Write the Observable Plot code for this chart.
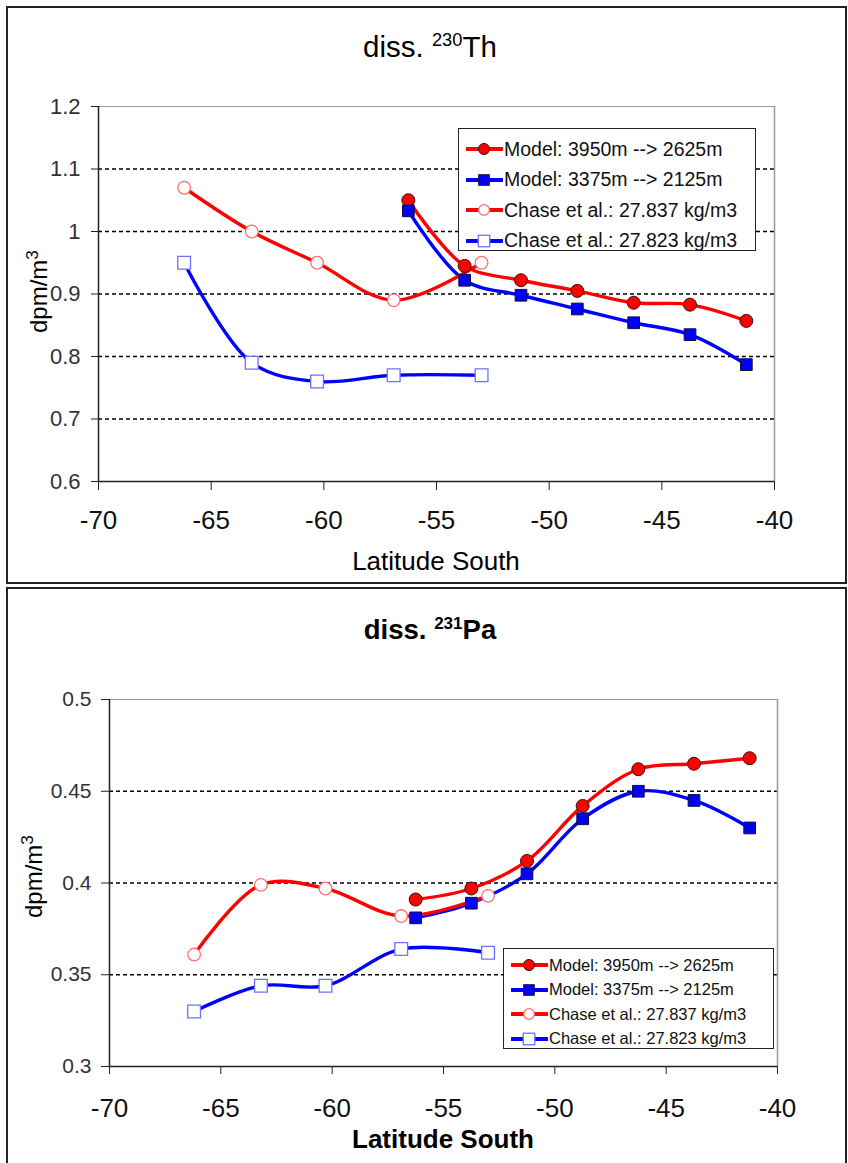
<!DOCTYPE html>
<html><head><meta charset="utf-8">
<script src="https://cdn.jsdelivr.net/npm/d3@7"></script>
<script src="https://cdn.jsdelivr.net/npm/@observablehq/plot@0.6"></script>
<style>
body{margin:0;background:#fff;font-family:"Liberation Sans",Arial,sans-serif;}
#page{position:relative;width:848px;height:1163px;overflow:hidden;background:#fff;}
.panel{position:absolute;border:2px solid #222;box-sizing:border-box;}
.title{position:absolute;left:0;width:860px;text-align:center;color:#000;}
.ylab{position:absolute;transform:rotate(-90deg);transform-origin:center center;white-space:nowrap;color:#000;}
.legend{position:absolute;background:#fff;border:1.5px solid #222;box-sizing:border-box;}
.legend .row{display:flex;align-items:center;white-space:nowrap;color:#111;}
</style></head>
<body><div id="page"></div>
<script>
// ---- data ----
const seriesNames = ["Model: 3950m --> 2625m","Model: 3375m --> 2125m","Chase et al.: 27.837 kg/m3","Chase et al.: 27.823 kg/m3"];
const latModel = [-56.25,-53.75,-51.25,-48.75,-46.25,-43.75,-41.25];
const latChase = [-66.2,-63.2,-60.3,-56.9,-53.0];
const thModelDeep    = [1.05,0.945,0.922,0.905,0.886,0.883,0.857];
const thModelShallow = [1.033,0.922,0.898,0.876,0.854,0.835,0.787];
const thChaseDeep    = [1.07,1.0,0.95,0.89,0.95];
const thChaseShallow = [0.95,0.79,0.76,0.77,0.77];
const paModelDeep    = [0.391,0.397,0.412,0.442,0.462,0.465,0.468];
const paModelShallow = [0.381,0.389,0.405,0.435,0.450,0.445,0.430];
const paChaseDeep    = [0.361,0.399,0.397,0.382,0.393];
const paChaseShallow = [0.330,0.344,0.344,0.364,0.362];
const xTicks = [-70,-65,-60,-55,-50,-45,-40];
const thYTicks = [0.6,0.7,0.8,0.9,1.0,1.1,1.2];
const paYTicks = [0.3,0.35,0.4,0.45,0.5];

const styles = [
  {line:"#ff0000", fill:"#ff0000", stroke:"#3a1010", symbol:"circle", r:6.5, sw:1},
  {line:"#0000ff", fill:"#0000ff", stroke:"#10103a", symbol:"square", r:6.6, sw:1},
  {line:"#ff0000", fill:"#ffffff", stroke:"#ff7070", symbol:"circle", r:6.3, sw:1.3},
  {line:"#0000ff", fill:"#ffffff", stroke:"#7070ff", symbol:"square", r:7.2, sw:1.3}
];

function rows(xs, ys){ return xs.map((x,i)=>({x, y:ys[i]})); }

const page = document.getElementById("page");

function makePanel(cfg){
  const panel = document.createElement("div");
  panel.className = "panel";
  Object.assign(panel.style, {left:"6px", top:cfg.boxTop+"px", width:"841px", height:cfg.boxH+"px"});
  page.appendChild(panel);

  const data = cfg.series.map(s => rows(s.xs, s.ys));
  const marks = [
    Plot.gridY(cfg.yTicks.slice(1,-1), {stroke:"#000", strokeOpacity:1, strokeWidth:1.3, strokeDasharray:"4,3"}),
    Plot.ruleY([cfg.yDomain[1]], {stroke:"#999", strokeWidth:1}),
    Plot.ruleX([cfg.xDomain[1]], {stroke:"#999", strokeWidth:1.5}),
    Plot.axisY({ticks: cfg.yTicks, tickFormat: d => String(+d.toFixed(2)), tickSize: cfg.yTickSize, tickPadding: cfg.yTickPad, fontSize: cfg.yFont, label:null, stroke:"#222", color:"#333"}),
    Plot.axisX({ticks: xTicks, tickFormat: d => String(d), tickSize: cfg.xTickSize, tickPadding: cfg.xTickPad, fontSize: cfg.xFont, label:null, stroke:"#222", color:"#111"}),
    Plot.ruleX([cfg.xDomain[0]], {stroke:"#222", strokeWidth:1.5}),
    Plot.ruleY([cfg.yDomain[0]], {stroke:"#222", strokeWidth:1.5})
  ];
  data.forEach((d,i)=>{
    marks.push(Plot.line(d, {x:"x", y:"y", stroke:styles[i].line, strokeWidth:3.4, curve:"catmull-rom"}));
  });
  data.forEach((d,i)=>{
    const s = styles[i];
    marks.push(Plot.dot(d, {x:"x", y:"y", symbol:s.symbol, r:s.r, fill:s.fill, stroke:s.stroke, strokeWidth:s.sw}));
  });
  const svg = Plot.plot({
    width: 848, height: cfg.svgH,
    marginLeft: cfg.mL, marginRight: cfg.mR, marginTop: cfg.mT, marginBottom: cfg.mB,
    x: {domain: cfg.xDomain},
    y: {domain: cfg.yDomain},
    style: {fontFamily:'"Liberation Sans", Arial, sans-serif', background:"transparent", overflow:"visible"},
    marks
  });
  svg.style.position = "absolute";
  svg.style.left = "0px";
  svg.style.top = cfg.svgTop + "px";
  page.appendChild(svg);

  const t = document.createElement("div");
  t.className = "title";
  t.style.top = cfg.titleTop + "px";
  t.style.fontSize = cfg.titleSize + "px";
  t.style.fontWeight = cfg.bold ? "bold" : "normal";
  t.innerHTML = cfg.titleHTML;
  page.appendChild(t);

  const xl = document.createElement("div");
  xl.className = "title";
  xl.style.left = "0px";
  xl.style.width = (cfg.mL*2 + (848-cfg.mL-cfg.mR)) + "px";
  xl.style.top = cfg.xLabTop + "px";
  xl.style.fontSize = cfg.xLabSize + "px";
  xl.style.fontWeight = cfg.bold ? "bold" : "normal";
  xl.textContent = "Latitude South";
  page.appendChild(xl);

  const yl = document.createElement("div");
  yl.className = "ylab";
  yl.style.fontSize = cfg.yLabSize + "px";
  yl.innerHTML = "dpm/m<sup style='font-size:0.72em'>3</sup>";
  yl.style.left = (cfg.yLabX - 60) + "px";
  yl.style.top = (cfg.yLabY - 15) + "px";
  yl.style.width = "120px";
  yl.style.textAlign = "center";
  yl.style.lineHeight = "30px";
  page.appendChild(yl);

  const lg = document.createElement("div");
  lg.className = "legend";
  Object.assign(lg.style, {left:cfg.lg.x+"px", top:cfg.lg.y+"px", width:cfg.lg.w+"px", height:cfg.lg.h+"px", paddingTop:cfg.lg.pad+"px", paddingLeft:"7px"});
  seriesNames.forEach((name,i)=>{
    const s = styles[i];
    const row = document.createElement("div");
    row.className = "row";
    row.style.height = cfg.lg.rowH + "px";
    row.style.fontSize = cfg.lg.font + "px";
    const half = s.symbol === "circle" ? s.r*0.85 : s.r*0.8;
    const mk = s.symbol === "circle"
      ? `<circle cx="18" cy="10" r="${half}" fill="${s.fill}" stroke="${s.stroke}" stroke-width="${s.sw}"/>`
      : `<rect x="${18-half}" y="${10-half}" width="${2*half}" height="${2*half}" fill="${s.fill}" stroke="${s.stroke}" stroke-width="${s.sw}"/>`;
    row.innerHTML = `<svg width="37" height="20" style="flex:none;margin-right:1px"><line x1="1" y1="10" x2="36" y2="10" stroke="${s.line}" stroke-width="4" stroke-linecap="round"/>${mk}</svg><span>${name}</span>`;
    lg.appendChild(row);
  });
  page.appendChild(lg);
}

makePanel({
  boxTop:6, boxH:578, svgTop:0, svgH:590,
  mL:98, mR:74, mT:106, mB:109,
  xDomain:[-70,-40], yDomain:[0.6,1.2], yTicks:thYTicks,
  series:[{xs:latModel,ys:thModelDeep},{xs:latModel,ys:thModelShallow},{xs:latChase,ys:thChaseDeep},{xs:latChase,ys:thChaseShallow}],
  yTickSize:7, yTickPad:11, yFont:22, xTickSize:9, xTickPad:20, xFont:26,
  titleTop:29, titleSize:29.5, bold:false, titleHTML:"diss. <sup style='font-size:0.62em'>230</sup>Th",
  xLabTop:546, xLabSize:26,
  yLabX:35, yLabY:288, yLabSize:24,
  lg:{x:458, y:128, w:298, h:123, pad:5, rowH:30.5, font:19.5}
});

makePanel({
  boxTop:587, boxH:600, svgTop:588, svgH:575,
  mL:109, mR:71, mT:111, mB:97,
  xDomain:[-70,-40], yDomain:[0.3,0.5], yTicks:paYTicks,
  series:[{xs:latModel,ys:paModelDeep},{xs:latModel,ys:paModelShallow},{xs:latChase,ys:paChaseDeep},{xs:latChase,ys:paChaseShallow}],
  yTickSize:8, yTickPad:10, yFont:21, xTickSize:8, xTickPad:24, xFont:26,
  titleTop:614, titleSize:27.5, bold:true, titleHTML:"diss. <sup style='font-size:0.62em'>231</sup>Pa",
  xLabTop:1124, xLabSize:26,
  yLabX:30, yLabY:873, yLabSize:24,
  lg:{x:503, y:948, w:271, h:101, pad:4, rowH:24.5, font:16.5}
});
</script></body></html>
